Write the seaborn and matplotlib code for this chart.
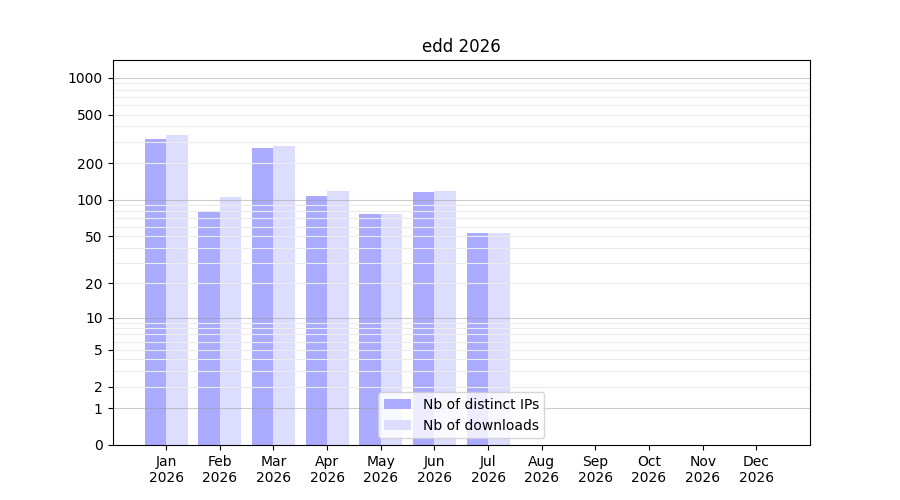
import numpy as np
import pandas as pd
import matplotlib
matplotlib.use("Agg")
import matplotlib.pyplot as plt
import seaborn as sns
from matplotlib.ticker import FixedLocator, FixedFormatter, NullLocator

months = ["Jan", "Feb", "Mar", "Apr", "May", "Jun", "Jul", "Aug", "Sep", "Oct", "Nov", "Dec"]
year = "2026"
ips = [317, 81, 267, 108, 76, 116, 53, 0, 0, 0, 0, 0]
downloads = [342, 106, 278, 118, 76, 118, 53, 0, 0, 0, 0, 0]
series_names = ["Nb of distinct IPs", "Nb of downloads"]
title = "edd 2026"
ytick_values = [0, 1, 2, 5, 10, 20, 50, 100, 200, 500, 1000]

labels = [f"{m}\n{year}" for m in months]
df = pd.DataFrame({
    "month": labels * 2,
    "value": ips + downloads,
    "series": [series_names[0]] * 12 + [series_names[1]] * 12,
})

fig, ax = plt.subplots(figsize=(9, 5), dpi=100)
sns.barplot(data=df, x="month", y="value", hue="series",
            palette=["#aaaaff", "#ddddff"], width=0.8, gap=0,
            saturation=1, ax=ax, errorbar=None)

ax.set_yscale("function", functions=(lambda v: np.log10(1 + np.clip(v, 0, None)),
                                      lambda t: 10 ** t - 1))
ax.set_ylim(0, 1400)
ax.set_xlim(-1, 12)

major_grid = [1, 10, 100, 1000]
minor_grid = [m * d for d in (1, 10, 100) for m in range(2, 10)]
ax.yaxis.set_major_locator(FixedLocator(ytick_values))
ax.yaxis.set_major_formatter(FixedFormatter([str(v) for v in ytick_values]))
ax.yaxis.set_minor_locator(NullLocator())
ax.tick_params(axis="y", which="minor", length=0)
for v in minor_grid:
    ax.axhline(v, color="#ececec", lw=0.8, zorder=2)
for v in major_grid:
    ax.axhline(v, color="#9a9a9a", lw=0.8, alpha=0.5, zorder=2.1)

ax.set_xlabel("")
ax.set_ylabel("")
ax.set_title(title)
ax.legend(loc="lower center")
for s in ax.spines.values():
    s.set_visible(True)
    s.set_color("black")
    s.set_zorder(3)

fig.savefig("out.png", dpi=100)
